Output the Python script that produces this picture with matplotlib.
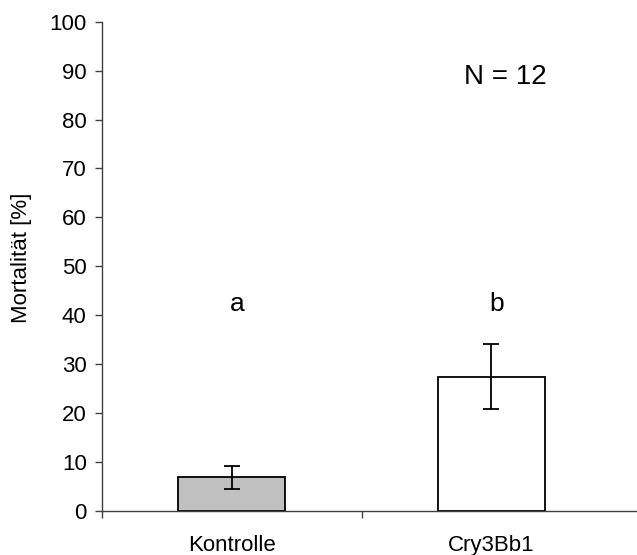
import numpy as np
import matplotlib.pyplot as plt

plt.rcParams['font.family'] = ['Liberation Sans', 'DejaVu Sans']

groups = ["Kontrolle", "Cry3Bb1"]
mortality = [6.9, 27.5]
errors = [2.3, 6.6]
letters = ["a", "b"]
letter_y = 40.8
n_text = "N = 12"
yticks = list(range(0, 101, 10))

fig = plt.figure(figsize=(6.37, 5.55), dpi=100)
ax = fig.add_axes([0.160, 0.079, 0.84, 0.882])

x = np.arange(len(groups))
ax.bar(x, mortality, width=0.41, color=["#c0c0c0", "white"],
       edgecolor="black", linewidth=1.3, zorder=2)
ax.errorbar(x, mortality, yerr=errors, fmt="none", ecolor="black",
            elinewidth=1.3, capsize=6, capthick=1.3, zorder=3)

for xi, s in zip(x, letters):
    ax.text(xi + 0.02, letter_y, s, ha="center", va="baseline", fontsize=19)
ax.text(1.055, 88.6, n_text, ha="center", va="center", fontsize=20)

ax.set_xlim(-0.5, -0.5 + (637 - 102.3) / 259.4)
ax.set_ylim(0, 100)
ax.set_yticks(yticks)
ax.tick_params(axis="y", direction="out", length=5, width=1, color="#404040",
               labelsize=16, pad=6)

# category labels sit between the boundary tick marks
ax.set_xticks(x)
ax.set_xticklabels(groups, fontsize=16)
ax.set_xticks([-0.5, 0.5], minor=True)
ax.tick_params(axis="x", which="major", length=0, pad=17)
ax.tick_params(axis="x", which="minor", direction="out", length=5, width=1,
               color="#404040")

for side in ("top", "right"):
    ax.spines[side].set_visible(False)
for side in ("left", "bottom"):
    ax.spines[side].set_color("#404040")
    ax.spines[side].set_linewidth(1)

fig.text(22 / 637, 1 - 258 / 555, "Mortalität [%]", rotation=90,
         ha="center", va="center", fontsize=16)

fig.savefig("out.png", dpi=100)
